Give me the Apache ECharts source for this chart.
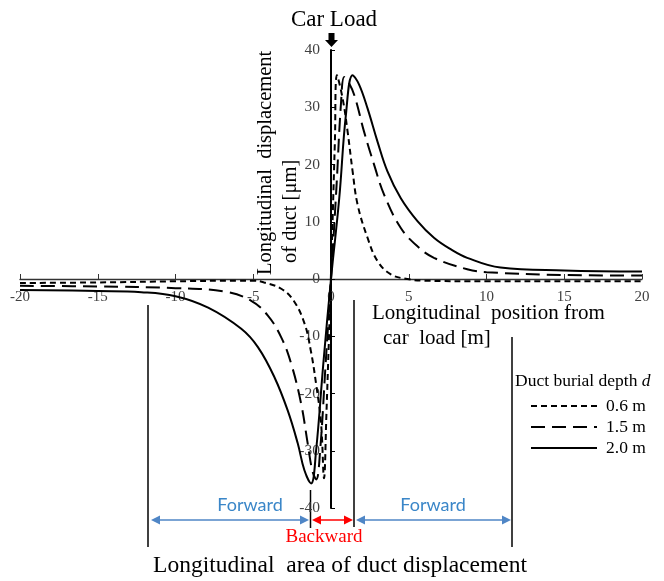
<!DOCTYPE html>
<html>
<head>
<meta charset="utf-8">
<script src="https://cdn.jsdelivr.net/npm/echarts@6/dist/echarts.min.js"></script>
<style>
    html, body { margin: 0; padding: 0; background: #fff; }
    #main { width: 664px; height: 581px; }
</style>
</head>
<body>
<div id="main"></div>
<script>
// depth 0.6 m (short dash)
var x06 = [-20, -15, -10, -6, -5, -4.3, -3.2, -2.4, -1.7, -1.3, -0.96, -0.64, -0.45, -0.3, 0, 0.25, 0.38, 0.75, 1.07, 1.39, 1.71, 2.35, 3.0, 3.85, 4.9, 6, 10, 15, 20];
var y06 = [-0.7, -0.6, -0.4, -0.3, -0.3, -0.6, -1.7, -3.8, -7.8, -12.5, -18.3, -25.2, -34.8, -24, 1, 24, 35.6, 31.5, 25.7, 18.8, 13, 7.2, 3.1, 0.8, 0, -0.3, -0.4, -0.4, -0.4];
// depth 1.5 m (long dash)
var x15 = [-20, -15, -10, -6.85, -5.13, -4.06, -3.2, -2.56, -1.92, -1.5, -1.2, -0.95, -0.7, -0.35, 0, 0.35, 0.65, 0.85, 1.1, 1.5, 2.13, 2.78, 3.42, 4.49, 5.56, 6.62, 8.76, 10, 15, 20];
var y15 = [-1.2, -1.3, -1.6, -2.2, -3.8, -6.4, -10.2, -14.8, -21.8, -28.7, -33.5, -35, -30, -15, 0, 16, 31, 35.3, 34.5, 32.1, 25.7, 19.9, 14.7, 8.9, 5.7, 3.7, 1.7, 1.2, 0.7, 0.6];
// depth 2.0 m (solid)
var x20 = [-20, -15, -12.2, -10, -7.9, -5.77, -4.7, -3.63, -2.78, -2.14, -1.71, -1.28, -0.96, -0.5, 0, 0.53, 0.96, 1.39, 1.8, 2.35, 2.99, 3.63, 4.49, 5.56, 6.62, 7.69, 8.76, 10.9, 15, 20];
var y20 = [-1.9, -2.1, -2.3, -3.0, -5.0, -8.7, -11.9, -17.2, -23, -28.7, -33.4, -35.7, -30, -15, 0, 14.1, 28.7, 35.6, 34, 29.8, 24, 18.8, 14.1, 10.1, 7.2, 5.2, 3.7, 2.0, 1.5, 1.3];

var depthNames = ["0.6 m", "1.5 m", "2.0 m"];

var serif = "Liberation Serif";
var blue = "#4f86c6";
var red = "#ff0000";

// grid box in pixels; the axes cross at (0, 0)
var gridLeft = 20, gridRight = 22, gridTop = 50, gridBottom = 73;
var plotW = 664 - gridLeft - gridRight;
var plotH = 581 - gridTop - gridBottom;

function pairs(xs, ys) {
    return xs.map(function (x, i) { return [x, ys[i]]; });
}

// double headed arrow between x1 and x2 at height y
function arrow(x1, x2, y, color) {
    return {
        type: "group",
        children: [
            { type: "line", shape: { x1: x1 + 6, y1: y, x2: x2 - 6, y2: y }, style: { stroke: color, lineWidth: 1.5 } },
            { type: "polygon", shape: { points: [[x1, y], [x1 + 9, y - 4.5], [x1 + 9, y + 4.5]] }, style: { fill: color } },
            { type: "polygon", shape: { points: [[x2, y], [x2 - 9, y - 4.5], [x2 - 9, y + 4.5]] }, style: { fill: color } }
        ]
    };
}

function vline(x, y1, y2) {
    return { type: "line", shape: { x1: x, y1: y1, x2: x, y2: y2 }, style: { stroke: "#000", lineWidth: 1.5 } };
}

function label(text, x, y, size, color, align, font) {
    return {
        type: "text", x: x, y: y,
        style: { text: text, fontFamily: font || serif, fontSize: size, fill: color || "#000", align: align || "center", verticalAlign: "middle" }
    };
}

var chart = echarts.init(document.getElementById("main"));

function lineSeries(name, xs, ys, dash) {
    return {
        name: name,
        type: "line",
        data: pairs(xs, ys),
        smooth: 0.4,
        symbol: "none",
        itemStyle: { color: "#000" },
        lineStyle: { color: "#000", width: 2, type: dash }
    };
}

chart.setOption({
    animation: false,
    grid: { left: gridLeft, right: gridRight, top: gridTop, bottom: gridBottom, outerBoundsMode: "none" },
    xAxis: {
        type: "value",
        min: -20,
        max: 20,
        interval: 5,
        offset: -plotH / 2,
        axisLine: { onZero: false, lineStyle: { color: "#333", width: 1.3 } },
        axisTick: { inside: true, length: 5, lineStyle: { color: "#333" } },
        axisLabel: { margin: 11, fontFamily: serif, fontSize: 15, color: "#404040" },
        splitLine: { show: false }
    },
    yAxis: {
        type: "value",
        min: -40,
        max: 40,
        interval: 10,
        offset: -plotW / 2,
        axisLine: { onZero: false, lineStyle: { color: "#000", width: 2 } },
        axisTick: { inside: true, length: 4, lineStyle: { color: "#000" } },
        axisLabel: { margin: 11, fontFamily: serif, fontSize: 15.5, color: "#404040" },
        splitLine: { show: false }
    },
    legend: {
        orient: "vertical",
        left: 525,
        top: 392,
        itemWidth: 66,
        itemHeight: 12,
        itemGap: 3,
        data: depthNames,
        itemStyle: { opacity: 0 },
        textStyle: { fontFamily: serif, fontSize: 17.5, color: "#000", padding: [0, 0, 0, 4] }
    },
    series: [
        lineSeries(depthNames[0], x06, y06, [6, 4]),
        lineSeries(depthNames[1], x15, y15, [14, 7]),
        lineSeries(depthNames[2], x20, y20, "solid")
    ],
    graphic: [
        // car load marker
        label("Car Load", 334, 20, 23),
        { type: "polygon", shape: { points: [[328.5, 33], [334.5, 33], [334.5, 40], [338, 40], [331.5, 47], [325, 40], [328.5, 40]] }, style: { fill: "#000" } },
        // axis titles
        {
            type: "text", x: 266, y: 275, rotation: Math.PI / 2,
            style: { text: "Longitudinal  displacement", fontFamily: serif, fontSize: 20.5, fill: "#000", align: "left", verticalAlign: "middle" }
        },
        {
            type: "text", x: 291, y: 263, rotation: Math.PI / 2,
            style: { text: "of duct [\u03bcm]", fontFamily: serif, fontSize: 20.5, fill: "#000", align: "left", verticalAlign: "middle" }
        },
        label("Longitudinal  position from", 372, 313, 21, "#000", "left"),
        label("car  load [m]", 383, 338, 21, "#000", "left"),
        // legend title
        {
            type: "text", x: 515, y: 381,
            style: {
                text: "{a|Duct burial depth }{b|d}",
                fontFamily: serif, fontSize: 17.5, fill: "#000", align: "left", verticalAlign: "middle",
                rich: {
                    a: { fontFamily: serif, fontSize: 17.5, color: "#000" },
                    b: { fontFamily: serif, fontSize: 17.5, color: "#000", fontStyle: "italic" }
                }
            }
        },
        // area boundaries
        vline(148, 305, 547),
        vline(310.5, 490, 528),
        vline(354, 300, 527),
        vline(512, 337, 547),
        // area arrows
        arrow(151, 309, 520, blue),
        arrow(312, 353, 520, red),
        arrow(356, 511, 520, blue),
        label("Forward", 250, 505, 18, "#3a86c8", "center", "Lato"),
        label("Forward", 433, 505, 18, "#3a86c8", "center", "Lato"),
        label("Backward", 324, 537, 19, red),
        label("Longitudinal  area of duct displacement", 340, 566, 23.5)
    ]
});
</script>
</body>
</html>
